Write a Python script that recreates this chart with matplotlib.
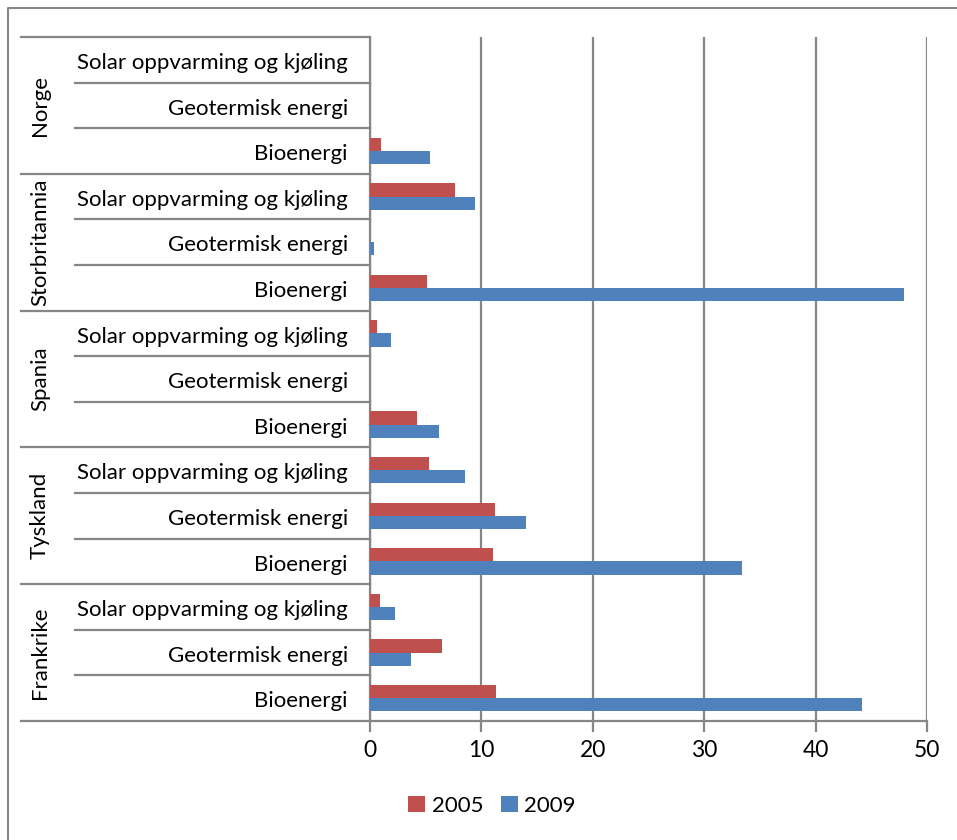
import matplotlib
matplotlib.use("Agg")
import matplotlib.pyplot as plt
import matplotlib.transforms as mtransforms
import numpy as np

plt.rcParams["font.family"] = ["Lato", "DejaVu Sans"]

# land-grupper nedenfra og opp, med energikilder i hver gruppe
countries = ["Frankrike", "Tyskland", "Spania", "Storbritannia", "Norge"]
sources = ["Bioenergi", "Geotermisk energi", "Solar oppvarming og kjøling"]

# verdier i samme rekkefølge: (land, kilde)
values_2005 = [11.3, 6.5, 0.9,
               11.0, 11.2, 5.3,
               4.2, 0.0, 0.6,
               5.1, 0.0, 7.6,
               1.0, 0.0, 0.0]
values_2009 = [44.2, 3.7, 2.2,
               33.4, 14.0, 8.5,
               6.2, 0.0, 1.9,
               47.9, 0.4, 9.4,
               5.4, 0.0, 0.0]
xticks = [0, 10, 20, 30, 40, 50]

RED = "#C0504D"
BLUE = "#4F81BD"
GRID = "#868686"
FS = 16

W, H = 957, 840
fig = plt.figure(figsize=(W / 100, H / 100), dpi=100)
ax = fig.add_axes([370 / W, (H - 721) / H, (927 - 370) / W, (721 - 37) / H])

n = len(countries) * len(sources)
y = np.arange(n)
bh = 0.29
ax.barh(y + bh / 2, values_2005, height=bh, color=RED, label="2005", zorder=3)
ax.barh(y - bh / 2, values_2009, height=bh, color=BLUE, label="2009", zorder=3)

ax.set_xlim(0, 50)
ax.set_ylim(-0.5, n - 0.5)
ax.set_xticks(xticks)
ax.set_xticklabels([str(t) for t in xticks], fontsize=16.5)
ax.set_yticks([])
ax.grid(axis="x", color=GRID, linewidth=1.6, zorder=0)
for s in ["top", "right"]:
    ax.spines[s].set_visible(False)
for s in ["left", "bottom"]:
    ax.spines[s].set_color(GRID)
    ax.spines[s].set_linewidth(1.6)
ax.tick_params(axis="x", direction="out", length=8, width=1.6, color=GRID, pad=6)

# kategoriaksen med to nivåer til venstre for plottet
tr = mtransforms.blended_transform_factory(fig.transFigure, ax.transData)
for i in range(n):
    ax.text(348 / W, i - 0.2, sources[i % 3], transform=tr, ha="right",
            va="baseline", fontsize=FS)
for b in range(n + 1):
    x0 = 21 if b % 3 == 0 else 75
    ax.plot([x0 / W, 370 / W], [b - 0.5, b - 0.5], transform=tr, color=GRID,
            linewidth=1.6, clip_on=False)
for g, name in enumerate(countries):
    ax.text(40 / W, g * 3 + 1, name, transform=tr, ha="center", va="center",
            rotation=90, fontsize=FS)

fig.legend(loc="center", bbox_to_anchor=(492 / W, (H - 806) / H), ncol=2,
           frameon=False, fontsize=FS, handlelength=0.75, handleheight=0.75,
           handletextpad=0.3, columnspacing=0.8)

# ramme: bare venstre og øvre kant er synlige
fig.add_artist(plt.Line2D([8 / W, 8 / W, 1], [0, (H - 8) / H, (H - 8) / H],
                          transform=fig.transFigure, color=GRID, linewidth=1.5))

fig.savefig("out.png", dpi=100)
